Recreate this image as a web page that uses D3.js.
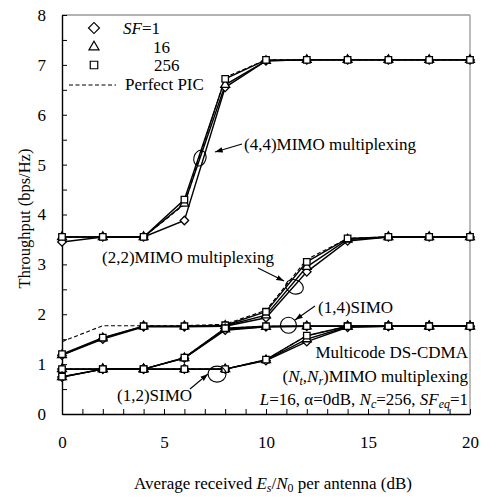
<!DOCTYPE html>
<html>
<head>
<meta charset="utf-8">
<script src="https://cdn.jsdelivr.net/npm/d3@7"></script>
<style>
  body { margin: 0; background: #fff; }
  svg text { font-family: "Liberation Serif", "Times New Roman", serif; fill: #000; }
</style>
</head>
<body>
<div id="chart"></div>
<script>
// data
const snr = [0, 2, 4, 6, 8, 10, 12, 14, 16, 18, 20];

const mimo44_sf1   = [3.45, 3.55, 3.55, 3.88, 6.55, 7.08, 7.1, 7.1, 7.1, 7.1, 7.1];
const mimo44_sf16  = [3.55, 3.55, 3.55, 4.22, 6.6, 7.08, 7.1, 7.1, 7.1, 7.1, 7.1];
const mimo44_sf256 = [3.55, 3.55, 3.55, 4.3, 6.72, 7.1, 7.1, 7.1, 7.1, 7.1, 7.1];
const mimo44_pic   = [3.55, 3.55, 3.55, 4.2, 6.75, 7.1, 7.1, 7.1, 7.1, 7.1, 7.1];

const mimo22_sf1   = [1.18, 1.5, 1.75, 1.75, 1.76, 1.93, 2.85, 3.47, 3.55, 3.55, 3.55];
const mimo22_sf16  = [1.18, 1.52, 1.76, 1.76, 1.77, 1.98, 2.95, 3.5, 3.55, 3.55, 3.55];
const mimo22_sf256 = [1.2, 1.53, 1.76, 1.76, 1.78, 2.05, 3.05, 3.52, 3.55, 3.55, 3.55];
const mimo22_pic   = [1.45, 1.77, 1.77, 1.77, 1.8, 2.08, 3.1, 3.52, 3.55, 3.55, 3.55];

const simo14_sf1   = [0.9, 0.9, 0.9, 1.12, 1.68, 1.75, 1.76, 1.76, 1.76, 1.76, 1.76];
const simo14_sf16  = [0.9, 0.9, 0.9, 1.12, 1.7, 1.75, 1.76, 1.76, 1.76, 1.76, 1.76];
const simo14_sf256 = [0.9, 0.9, 0.9, 1.13, 1.72, 1.76, 1.76, 1.76, 1.76, 1.76, 1.76];
const simo14_pic   = [0.9, 0.9, 0.9, 1.13, 1.72, 1.76, 1.76, 1.76, 1.76, 1.76, 1.76];

const simo12_sf1   = [0.74, 0.9, 0.9, 0.9, 0.9, 1.07, 1.45, 1.74, 1.76, 1.76, 1.76];
const simo12_sf16  = [0.74, 0.9, 0.9, 0.9, 0.9, 1.08, 1.5, 1.75, 1.76, 1.76, 1.76];
const simo12_sf256 = [0.75, 0.9, 0.9, 0.9, 0.9, 1.09, 1.57, 1.76, 1.76, 1.76, 1.76];
const simo12_pic   = [0.75, 0.9, 0.9, 0.9, 0.9, 1.09, 1.57, 1.76, 1.76, 1.76, 1.76];

const xTicks = [0, 5, 10, 15, 20];
const yTicks = [0, 1, 2, 3, 4, 5, 6, 7, 8];

const FS = 17;
const W = 486, H = 498;
const svg = d3.select("#chart").append("svg")
  .attr("width", W).attr("height", H);

const x = d3.scaleLinear().domain([0, 20]).range([62, 470]);
const y = d3.scaleLinear().domain([0, 8]).range([414, 15]);

// frame: top and right in grey
svg.append("line").attr("x1", x(0)).attr("x2", x(20)).attr("y1", y(8)).attr("y2", y(8))
  .attr("stroke", "#999").attr("stroke-width", 1.3);
svg.append("line").attr("x1", x(20)).attr("x2", x(20)).attr("y1", y(8)).attr("y2", y(0))
  .attr("stroke", "#999").attr("stroke-width", 1.3);

// axes
const xAxis = d3.axisBottom(x)
  .tickValues(d3.range(0, 21, 1))
  .tickSizeInner(-5).tickSizeOuter(0).tickPadding(22)
  .tickFormat(d => xTicks.includes(d) ? d : "");
const gx = svg.append("g").attr("transform", `translate(0,${y(0)})`).call(xAxis);

const yAxis = d3.axisLeft(y)
  .tickValues(d3.range(0, 8.01, 0.5))
  .tickSizeInner(-5).tickSizeOuter(0).tickPadding(16)
  .tickFormat(d => yTicks.includes(d) ? d : "");
const gy = svg.append("g").attr("transform", `translate(${x(0)},0)`).call(yAxis);

[gx, gy].forEach(g => {
  g.select(".domain").attr("stroke", "#000").attr("stroke-width", 1.4);
  g.selectAll(".tick line").attr("stroke", "#000");
  g.selectAll(".tick text").style("font-size", FS + "px").attr("fill", "#000");
});

// series
const sfSeries = [
  [mimo44_sf1, mimo44_sf16, mimo44_sf256, mimo44_pic],
  [mimo22_sf1, mimo22_sf16, mimo22_sf256, mimo22_pic],
  [simo14_sf1, simo14_sf16, simo14_sf256, simo14_pic],
  [simo12_sf1, simo12_sf16, simo12_sf256, simo12_pic]
];

const line = d3.line().x((d, i) => x(snr[i])).y(d => y(d));

const diamond = d3.symbol().type(d3.symbolSquare).size(36);
const triangle = d3.symbol().type(d3.symbolTriangle).size(34);
const square = d3.symbol().type(d3.symbolSquare).size(42);
const markers = [
  { gen: diamond, rot: 45 },
  { gen: triangle, rot: 0 },
  { gen: square, rot: 0 }
];

sfSeries.forEach(group => {
  // PIC dashed
  svg.append("path").attr("d", line(group[3]))
    .attr("fill", "none").attr("stroke", "#000").attr("stroke-width", 1.1)
    .attr("stroke-dasharray", "4,2.5");
  for (let k = 0; k < 3; k++) {
    svg.append("path").attr("d", line(group[k]))
      .attr("fill", "none").attr("stroke", "#000").attr("stroke-width", 1.4);
  }
});

sfSeries.forEach(group => {
  for (let k = 0; k < 3; k++) {
    svg.append("g").selectAll("path")
      .data(group[k])
      .enter()
      .append("path")
      .attr("d", markers[k].gen())
      .attr("transform", (d, i) => `translate(${x(snr[i])},${y(d)}) rotate(${markers[k].rot})`)
      .attr("fill", "#fff").attr("stroke", "#000").attr("stroke-width", 1.3);
  }
});

// rich text helper
function richText(px, py, parts, anchor, size) {
  const fs = size || FS;
  const t = svg.append("text").attr("x", px).attr("y", py)
    .attr("text-anchor", anchor || "start")
    .style("font-size", fs + "px");
  parts.forEach(p => {
    const s = t.append("tspan").text(p.t);
    if (p.i) s.style("font-style", "italic");
    if (p.sub) s.attr("dy", 3).style("font-size", (fs * 0.7) + "px");
    if (p.up) s.attr("dy", -3);
  });
  return t;
}

// legend
const legMarkers = [
  { gen: d3.symbol().type(d3.symbolSquare).size(60), rot: 45, cy: 28 },
  { gen: d3.symbol().type(d3.symbolTriangle).size(44), rot: 0, cy: 47 },
  { gen: d3.symbol().type(d3.symbolSquare).size(56), rot: 0, cy: 65 }
];
legMarkers.forEach(m => {
  svg.append("path").attr("d", m.gen())
    .attr("transform", `translate(94,${m.cy}) rotate(${m.rot})`)
    .attr("fill", "#fff").attr("stroke", "#000").attr("stroke-width", 1.2);
});
richText(123, 34, [{ t: "SF", i: true }, { t: "=1" }]);
richText(153, 53, [{ t: "16" }]);
richText(154, 71, [{ t: "256" }]);
svg.append("line").attr("x1", 69).attr("x2", 116).attr("y1", 85).attr("y2", 85)
  .attr("stroke", "#000").attr("stroke-width", 1.1).attr("stroke-dasharray", "4,2.5");
richText(125, 90, [{ t: "Perfect PIC" }]);

// annotations
svg.append("defs").append("marker")
  .attr("id", "ah").attr("viewBox", "0 0 10 10")
  .attr("refX", 10).attr("refY", 5)
  .attr("markerWidth", 7).attr("markerHeight", 7)
  .attr("orient", "auto")
  .append("path").attr("d", "M0,1.5L10,5L0,8.5Z").attr("fill", "#000");

function ellipse(cx, cy, rx, ry, rot) {
  svg.append("ellipse").attr("cx", 0).attr("cy", 0).attr("rx", rx).attr("ry", ry)
    .attr("transform", `translate(${x(cx)},${y(cy)}) rotate(${rot})`)
    .attr("fill", "none").attr("stroke", "#000").attr("stroke-width", 1.1);
}
function arrow(x1, y1, x2, y2) {
  svg.append("line").attr("x1", x1).attr("y1", y1).attr("x2", x2).attr("y2", y2)
    .attr("stroke", "#000").attr("stroke-width", 1.1).attr("marker-end", "url(#ah)");
}

ellipse(6.76, 5.13, 6, 8, 15);
arrow(242, 144, 215, 152);
richText(244, 150, [{ t: "(4,4)MIMO multiplexing" }]);

ellipse(11.4, 2.55, 9, 7, 20);
richText(102, 263, [{ t: "(2,2)MIMO multiplexing" }]);
arrow(258, 268, 284, 281);

ellipse(11.1, 1.78, 8, 8, 0);
richText(318, 313, [{ t: "(1,4)SIMO" }]);
arrow(315, 306, 295, 320);

ellipse(7.6, 0.8, 9, 8, 0);
richText(117, 401, [{ t: "(1,2)SIMO" }]);
arrow(190, 389, 208, 374);

richText(468, 358, [{ t: "Multicode DS-CDMA" }], "end");
richText(468, 382, [{ t: "(" }, { t: "N", i: true }, { t: "t", i: true, sub: true },
  { t: ",", up: true }, { t: "N", i: true }, { t: "r", i: true, sub: true },
  { t: ")MIMO multiplexing", up: true }], "end");
richText(468, 405, [{ t: "L", i: true }, { t: "=16, α=0dB, " }, { t: "N", i: true },
  { t: "c", i: true, sub: true }, { t: "=256, ", up: true }, { t: "SF", i: true },
  { t: "eq", i: true, sub: true }, { t: "=1", up: true }], "end");

// axis titles
richText(273, 489, [{ t: "Average received " }, { t: "E", i: true }, { t: "s", i: true, sub: true },
  { t: "/", up: true }, { t: "N", i: true }, { t: "0", sub: true },
  { t: " per antenna (dB)", up: true }], "middle");

svg.append("text")
  .attr("transform", `translate(30,${(y(0) + y(8)) / 2 + 4}) rotate(-90)`)
  .attr("text-anchor", "middle")
  .style("font-size", "16.5px")
  .text("Throughput (bps/Hz)");
</script>
</body>
</html>
